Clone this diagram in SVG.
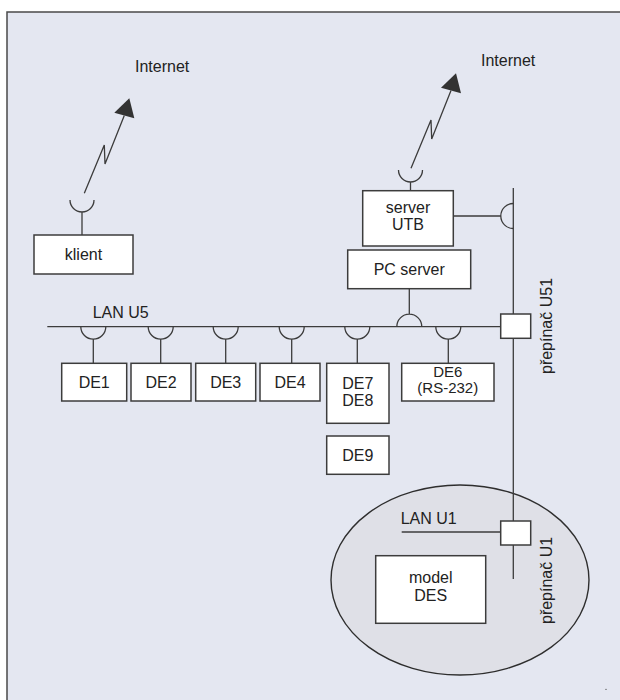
<svg xmlns="http://www.w3.org/2000/svg" width="620" height="700" viewBox="0 0 620 700">
<defs>
<style>
.panel{fill:#e4e7f1;stroke:#4a4a4a;stroke-width:1.5}
.zone{fill:#dfe0e7;stroke:#2e2e2e;stroke-width:1.4}
.box{fill:#ffffff;stroke:#3c3c3c;stroke-width:1.5}
.ln{fill:none;stroke:#3c3c3c;stroke-width:1.3}
.head{fill:#333333;stroke:none}
text{font-family:"Liberation Sans",Arial,Helvetica,sans-serif;font-size:16px;fill:#222222}
.c{text-anchor:middle}
.s{font-size:15px}
</style>
</defs>
<rect class="panel" x="7" y="12" width="640" height="720"/>
<g id="zone-U1"><ellipse class="zone" cx="460" cy="580" rx="129" ry="95"/></g>
<g id="connectors">
<polyline class="ln" points="84.3,193.3 104.3,145 105,164 124.3,115.5"/>
<polygon class="head" points="129.3,98.3 114.3,112.7 134.3,118.3"/>
<polyline class="ln" points="411,168.3 431,120 431.7,139 451,90.5"/>
<polygon class="head" points="456,73.3 441,87.7 461,93.3"/>
<path class="ln" d="M70,200 A12 12 0 0 0 94,200 M82,212 V235"/>
<path class="ln" d="M398.5,170 A12 12 0 0 0 422.5,170 M410.5,182 V190.7"/>
<path class="ln" d="M453.3,216 H500.8 M513.3,203.5 A12.5 12.5 0 0 0 513.3,228.5"/>
<path class="ln" d="M513.3,188 V579"/>
<path class="ln" d="M47.3,326.7 H500.7"/>
<path class="ln" d="M409.3,288.7 V314.2 M396.8,326.7 A12.5 12.5 0 0 1 421.8,326.7"/>
<path class="ln" d="M80.8,326.7 A12.5 12.5 0 0 0 105.8,326.7 M93.3,339.2 V363.3"/>
<path class="ln" d="M148.2,326.7 A12.5 12.5 0 0 0 173.2,326.7 M160.7,339.2 V363.3"/>
<path class="ln" d="M213.2,326.7 A12.5 12.5 0 0 0 238.2,326.7 M225.7,339.2 V363.3"/>
<path class="ln" d="M279.2,326.7 A12.5 12.5 0 0 0 304.2,326.7 M291.7,339.2 V363.3"/>
<path class="ln" d="M344.8,326.7 A12.5 12.5 0 0 0 369.8,326.7 M357.3,339.2 V363.3"/>
<path class="ln" d="M435.8,326.7 A12.5 12.5 0 0 0 460.8,326.7 M448.3,339.2 V363.3"/>
<path class="ln" d="M401.7,532 H500.7"/>
</g>
<text x="135" y="72">Internet</text>
<text x="481" y="66">Internet</text>
<text x="92.7" y="318.3">LAN U5</text>
<text x="400.7" y="524">LAN U1</text>
<text transform="translate(551.7,374) rotate(-90)">přepínač U51</text>
<text transform="translate(551.7,624) rotate(-90)">přepínač U1</text>
<g id="klient"><rect class="box" x="34" y="235" width="99" height="39"/><text class="c" x="83.5" y="260">klient</text></g>
<g id="server-UTB"><rect class="box" x="362.7" y="190.7" width="90.6" height="55.3"/><text class="c" x="408" y="213">server</text><text class="c" x="408" y="230.3">UTB</text></g>
<g id="PC-server"><rect class="box" x="347.7" y="250" width="123" height="38.7"/><text class="c" x="409.2" y="275">PC server</text></g>
<g id="DE1"><rect class="box" x="61.7" y="363.3" width="65" height="37.7"/><text class="c" x="94.2" y="388.3">DE1</text></g>
<g id="DE2"><rect class="box" x="131" y="363.3" width="60" height="37.7"/><text class="c" x="161" y="388.3">DE2</text></g>
<g id="DE3"><rect class="box" x="195.7" y="363.3" width="60" height="37.7"/><text class="c" x="225.7" y="388.3">DE3</text></g>
<g id="DE4"><rect class="box" x="260" y="363.3" width="60" height="37.7"/><text class="c" x="290" y="388.3">DE4</text></g>
<g id="DE7-DE8"><rect class="box" x="326.7" y="363.3" width="62.3" height="60"/><text class="c" x="357.8" y="389">DE7</text><text class="c" x="357.8" y="405.7">DE8</text></g>
<g id="DE9"><rect class="box" x="326.7" y="436" width="62.3" height="38.3"/><text class="c" x="357.8" y="460.7">DE9</text></g>
<g id="DE6"><rect class="box" x="401.7" y="363.3" width="92.3" height="37.7"/><text class="c s" x="447.8" y="377">DE6</text><text class="c s" x="447.8" y="393">(RS-232)</text></g>
<g id="switch-U51"><rect class="box" x="500.7" y="314" width="30" height="24.3"/></g>
<g id="switch-U1"><rect class="box" x="500.7" y="521" width="30" height="24"/></g>
<g id="model-DES"><rect class="box" x="375.7" y="555.7" width="110" height="67.6"/><text class="c" x="430.7" y="582.7">model</text><text class="c" x="430.7" y="600.5">DES</text></g>
<circle cx="606" cy="689.3" r="0.6" fill="#333333"/>
</svg>
